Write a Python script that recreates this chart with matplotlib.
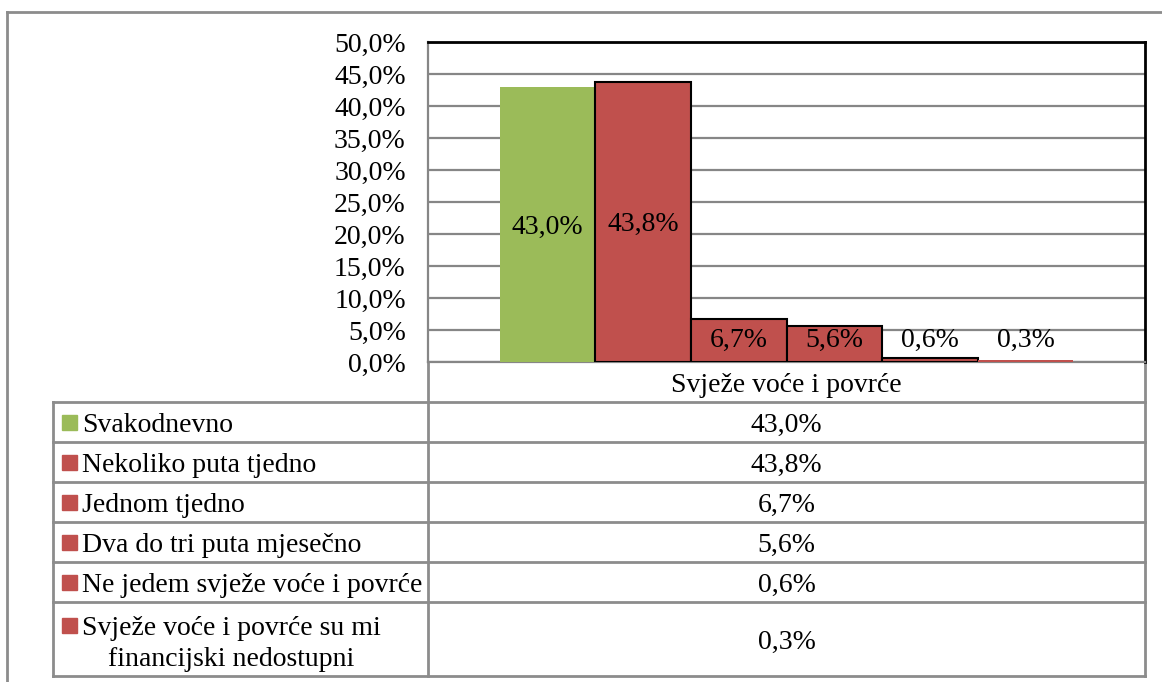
import matplotlib
matplotlib.use("Agg")
import matplotlib.pyplot as plt
from matplotlib.patches import Rectangle

# data
categories = ["Svakodnevno", "Nekoliko puta tjedno", "Jednom tjedno",
              "Dva do tri puta mjesečno", "Ne jedem svježe voće i povrće",
              "Svježe voće i povrće su mi\nfinancijski nedostupni"]
values = [43.0, 43.8, 6.7, 5.6, 0.6, 0.3]
group_label = "Svježe voće i povrće"
yticks = [0, 5, 10, 15, 20, 25, 30, 35, 40, 45, 50]

colors = ["#9BBB59", "#C0504D", "#C0504D", "#C0504D", "#C0504D", "#C0504D"]
edges = ["none", "black", "black", "black", "black", "none"]

def pct(v):
    return ("%.1f%%" % v).replace(".", ",")

plt.rcParams['font.family'] = ['Liberation Serif', 'DejaVu Serif']
FS = 20
VA = "center_baseline"
W, H = 1162, 682
fig = plt.figure(figsize=(W / 100, H / 100), dpi=100)

# overlay in pixel coords for frame and table
ov = fig.add_axes([0, 0, 1, 1])
ov.set_xlim(0, W)
ov.set_ylim(H, 0)
ov.axis("off")

# plot area
pl, pt, pr, pb = 428, 42, 1145, 362
ax = fig.add_axes([pl / W, (H - pb) / H, (pr - pl) / W, (pb - pt) / H])
x = list(range(len(values)))
ax.bar(x, values, width=1.0, color=colors, edgecolor=edges, linewidth=1.5, zorder=3)
ax.set_xlim(-1.25, len(values) + 0.25)
ax.set_ylim(0, 50)
ax.set_yticks(yticks)
ax.set_yticklabels([pct(t) for t in yticks], fontsize=FS, va=VA)
ax.tick_params(axis="y", length=0, pad=16)
ax.set_xticks([])
ax.grid(axis="y", color="#868686", linewidth=1.6, zorder=0)
ax.set_axisbelow(True)
for s in ["top", "right"]:
    ax.spines[s].set_color("black")
    ax.spines[s].set_linewidth(2)
for s in ["left", "bottom"]:
    ax.spines[s].set_color("#868686")
    ax.spines[s].set_linewidth(1.6)

for xi, v in zip(x, values):
    ax.text(xi, max(v / 2, 3.9), pct(v), ha="center", va=VA, fontsize=FS, zorder=4)

# outer frame
gray = "#8c8c8c"
ov.plot([7, W], [12, 12], color=gray, lw=2)
ov.plot([7, 7], [12, H], color=gray, lw=2)

# data table
tl, tm, tr = 53, 428, 1145
rows = [402, 442, 482, 522, 562, 602, 676]
tc = "#8c8c8c"
ov.plot([tm, tm], [pb, rows[-1]], color=tc, lw=2)
ov.plot([tr, tr], [pb, rows[-1]], color=tc, lw=2)
ov.plot([tl, tl], [rows[0], rows[-1]], color=tc, lw=2)
for ry in rows:
    ov.plot([tl, tr], [ry, ry], color=tc, lw=2)
ov.text((tm + tr) / 2, (pb + rows[0]) / 2, group_label, ha="center", va=VA, fontsize=FS)

for i, (c, v, col) in enumerate(zip(categories, values, colors)):
    y0, y1 = rows[i], rows[i + 1]
    yc = (y0 + y1) / 2
    if "\n" in c:
        ov.add_patch(Rectangle((62, y0 + 23 - 7.5), 15, 15, color=col))
        ov.text(82, yc + 5, c, ha="left", va="center", fontsize=FS,
                multialignment="center", linespacing=1.3)
    else:
        ov.add_patch(Rectangle((62, yc - 7.5), 15, 15, color=col))
        ov.text(82, yc, c, ha="left", va=VA, fontsize=FS)
    ov.text((tm + tr) / 2, yc, pct(v), ha="center", va=VA, fontsize=FS)

fig.savefig("out.png", dpi=100)
